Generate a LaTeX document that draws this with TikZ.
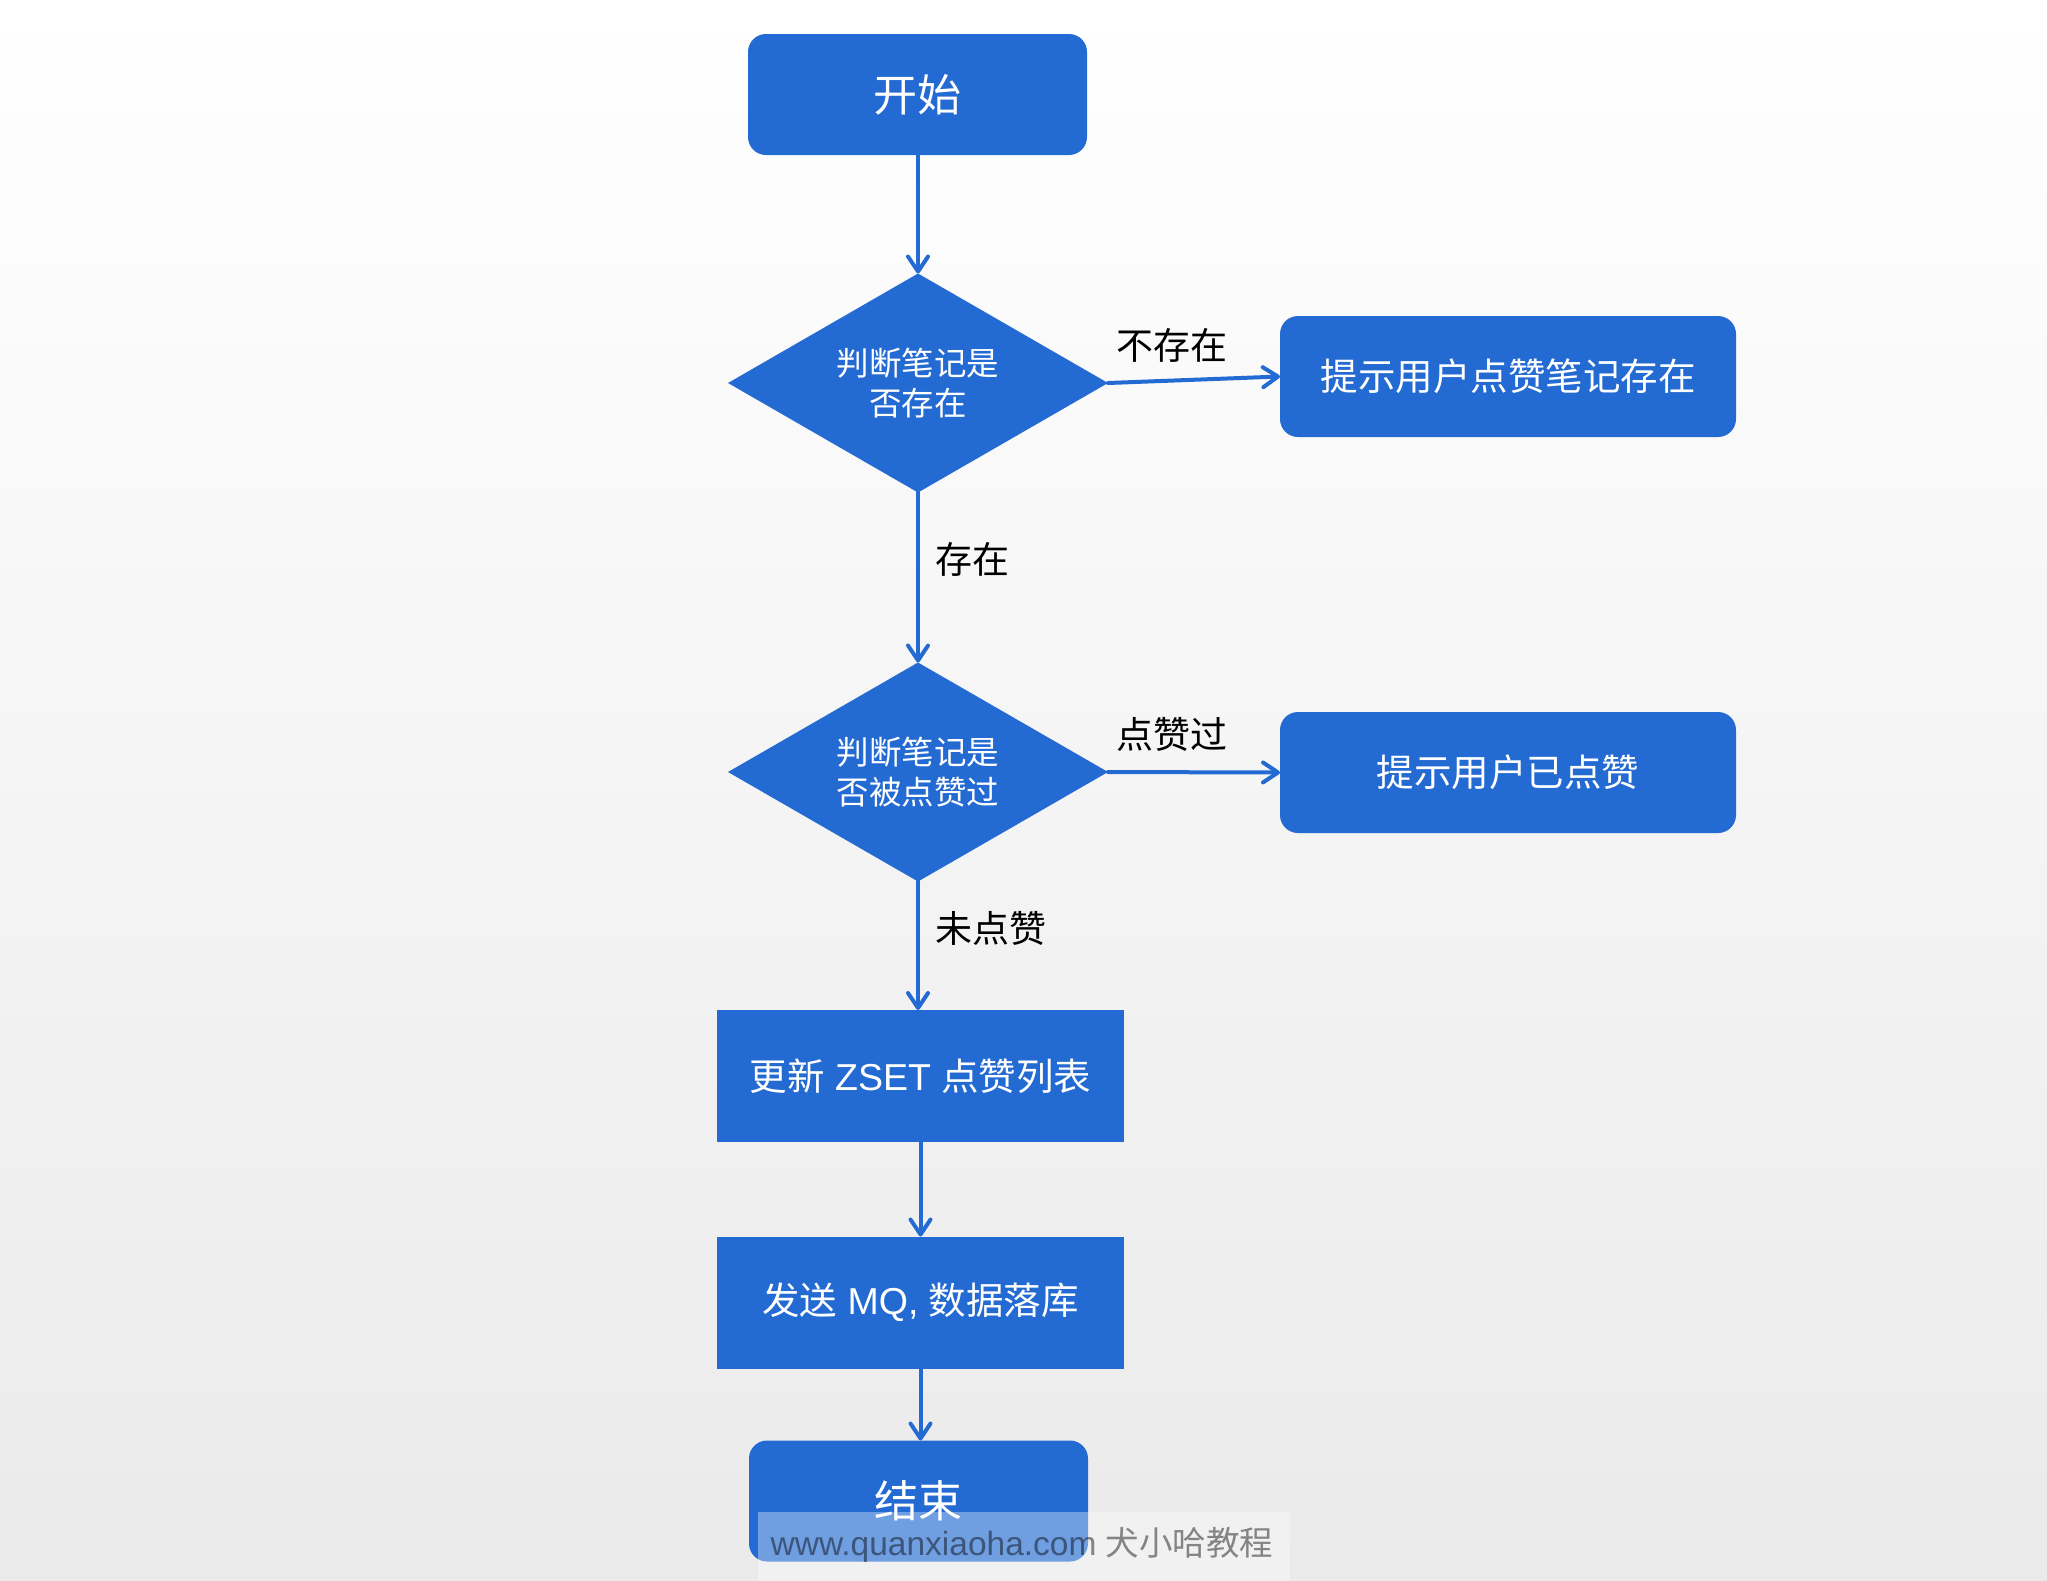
\documentclass[tikz,border=0pt]{standalone}
\usepackage{fontspec}
\setmainfont{Liberation Sans}
\newfontfamily\cjk{Noto Sans CJK SC}
\usetikzlibrary{shapes.geometric,arrows.meta}
\definecolor{flowblue}{RGB}{35,106,210}
\definecolor{bgmid}{RGB}{247,247,247}
\definecolor{bgbottom}{RGB}{234,234,234}
\begin{document}
\begin{tikzpicture}[x=1pt,y=-1pt,
  term/.style={rectangle, rounded corners=18pt, fill=flowblue, text=white,
    minimum width=339pt, minimum height=121pt, inner sep=0pt, outer sep=0pt,
    font=\cjk\fontsize{44}{52}\selectfont},
  tipbox/.style={rectangle, rounded corners=18pt, fill=flowblue, text=white,
    minimum width=456pt, minimum height=121pt, inner sep=0pt, outer sep=0pt,
    font=\cjk\fontsize{37.5}{45}\selectfont},
  proc/.style={rectangle, fill=flowblue, text=white,
    minimum width=407pt, minimum height=132pt, inner sep=0pt, outer sep=0pt,
    font=\fontsize{37.5}{45}\selectfont},
  decision/.style={diamond, aspect=1.735, fill=flowblue, text=white,
    minimum width=380pt, minimum height=219pt, inner sep=0pt, outer sep=0pt,
    align=center, font=\cjk\fontsize{32.5}{40}\selectfont},
  flow/.style={draw=flowblue, line width=4pt, line cap=round,
    -{Straight Barb[length=15pt,width=20pt,round]}},
  lbl/.style={text=black, inner sep=0pt, font=\cjk\fontsize{37}{44}\selectfont}
]
\useasboundingbox (0,0) rectangle (2047,1580);
\shade[top color=white, middle color=bgmid, bottom color=bgbottom] (0,0) rectangle (2047,1580);

\node[term] (start) at (917.5,94.5) {开始};
\node[decision] (d1) at (918,383) {判断笔记是\\否存在};
\node[tipbox] (r1) at (1508,376.5) {提示用户点赞笔记存在};
\node[decision] (d2) at (918,772) {判断笔记是\\否被点赞过};
\node[tipbox] (r2) at (1508,772.5) {提示用户已点赞};
\node[proc] (upd) at (920.5,1076) {{\cjk 更新} ZSET {\cjk 点赞列表}};
\node[proc] (send) at (920.5,1302.5) {{\cjk 发送} MQ, {\cjk 数据落库}};
\node[term] (end) at (918.5,1501) {结束};

\draw[flow] (start.south -| d1.north) -- (d1.north);
\draw[flow] (d1.east) -- (r1.west);
\draw[flow] (d1.south) -- (d2.north);
\draw[flow] (d2.east) -- (r2.west);
\draw[flow] (d2.south) -- (d2.south |- upd.north);
\draw[flow] (upd.south) -- (send.north);
\draw[flow] (send.south) -- (send.south |- end.north);

\node[lbl] (l1) at (1172,345) {不存在};
\node[lbl, anchor=west] (l2) at (935,559) {存在};
\node[lbl] (l3) at (1172,734) {点赞过};
\node[lbl, anchor=west] (l4) at (935,928) {未点赞};

\fill[white, opacity=0.35] (758,1512) rectangle (1290,1582);
\node[text=black, text opacity=0.45, inner sep=0pt, font=\fontsize{33.5}{40}\selectfont] (wm) at (1022,1545) {www.quanxiaoha.com {\cjk 犬小哈教程}};
\end{tikzpicture}
\end{document}
